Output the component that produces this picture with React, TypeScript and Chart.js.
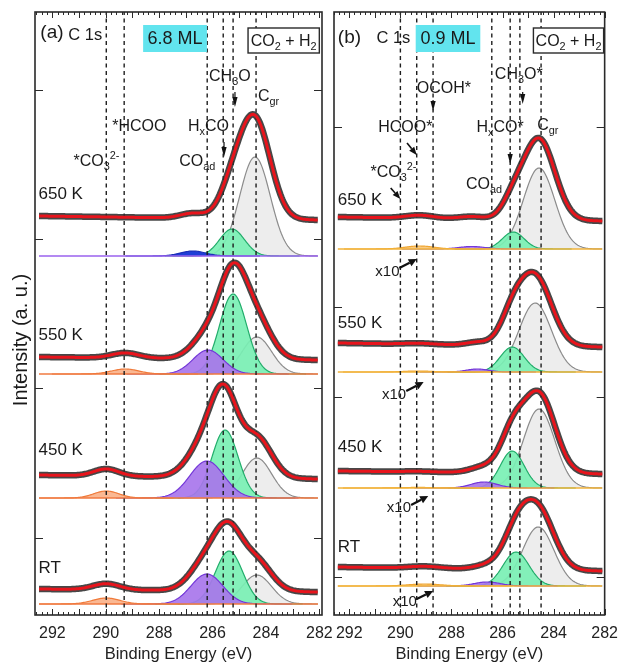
import React, { useEffect, useRef } from "react";
import { Chart, registerables } from "chart.js";

Chart.register(...registerables);

const FONT = '"Liberation Sans", Arial, Helvetica, sans-serif';

// ---------------- shared ----------------
const X_TICKS = [292, 290, 288, 286, 284, 282];
const TEMPERATURES = ["650 K", "550 K", "450 K", "RT"];

// ---------------- panel (a) : 6.8 ML ----------------
// components: [centre (eV), height (a.u.), FWHM (eV)]
const A_BASELINE = [3.59, 2.41, 1.17, 0.11];
const A_BG_HIGH_BE = [0.4, 0.17, 0.23, 0.15];
const A_BG_LOW_BE = [0.36, 0.14, 0.19, 0.12];
const A_CGR = [[284.41, 0.99, 1.35], [284.34, 0.37, 1.3], [284.34, 0.4, 1.3], [284.34, 0.29, 1.3]];
const A_HXCO = [[285.27, 0.27, 1.1], [285.23, 0.8, 1.2], [285.53, 0.68, 1.15], [285.38, 0.53, 1.2]];
const A_COAD = [null, [286.17, 0.24, 1.33], [286.21, 0.37, 1.5], [286.21, 0.3, 1.4]];
const A_CO3 = [null, [289.27, 0.05, 1.2], [289.98, 0.07, 1.1], [289.98, 0.06, 1.2]];
const A_EXTRA = [[286.73, 0.05, 1.1], null, null, null];
const A_REF_LINES = [289.98, 289.31, 286.2, 285.6, 285.23, 284.37];
const A_Y_TICKS = [5.25, 3.76, 2.27, 0.77];

// ---------------- panel (b) : 0.9 ML ----------------
const B_BASELINE = [3.66, 2.43, 1.27, 0.29];
const B_BG_HIGH_BE = [0.32, 0.29, 0.17, 0.19];
const B_BG_LOW_BE = [0.28, 0.25, 0.14, 0.15];
const B_CGR = [[284.57, 0.81, 1.45], [284.72, 0.69, 1.5], [284.57, 0.79, 1.45], [284.6, 0.59, 1.45]];
const B_HXCO = [[285.58, 0.17, 1.0], [285.62, 0.25, 1.1], [285.62, 0.37, 1.1], [285.47, 0.34, 1.2]];
const B_COAD = [[287.2, 0.025, 1.2], [286.98, 0.03, 1.0], [286.72, 0.06, 1.2], [286.6, 0.04, 1.2]];
const B_CO3 = [[289.25, 0.03, 1.3], [289.3, 0.01, 1.3], [289.3, 0.006, 1.3], [289.06, 0.02, 1.5]];
const B_REF_LINES = [290.0, 289.36, 288.72, 286.42, 285.7, 285.32, 284.49];
const B_Y_TICKS = [4.88, 3.08, 2.18, 0.38];

const SAMPLE_STEP = 0.04;
const Y_MIN = 0;
const Y_MAX = 6.03;

type Comp = number[] | null;
type Part = [string, number];

const gauss = (x: number, c: number[]) =>
  c[1] * Math.exp((-4 * Math.LN2 * (x - c[0]) * (x - c[0])) / (c[2] * c[2]));

function energyGrid(hi: number, lo: number) {
  const g: number[] = [];
  const n = Math.round((hi - lo) / SAMPLE_STEP);
  for (let i = 0; i <= n; i++) g.push(+(hi - i * SAMPLE_STEP).toFixed(3));
  return g;
}

interface CompKind { list: Comp[]; fill: string; stroke: string; order: number }
interface TextItem { x: number; y: number; parts: Part[]; size: number }
interface BoxItem { x1: number; x2: number; y1: number; y2: number; parts: Part[]; size: number; fill: string; stroke: boolean }
interface ArrowItem { x1: number; y1: number; x2: number; y2: number; lw: number; head: number; hw: number }
interface PanelDef {
  xMin: number; xMax: number; dataHi: number; dataLo: number;
  padLeft: number; padRight: number;
  base: number[]; bgHigh: number[]; bgLow: number[];
  kinds: CompKind[]; baselineColors: string[];
  refLines: number[]; yTicks: number[];
  texts: TextItem[]; boxes: BoxItem[]; arrows: ArrowItem[];
  yTitle: boolean;
}

const GRAY = { fill: "rgba(236,236,236,0.95)", stroke: "#8c8c8c" };
const GREEN = { fill: "rgba(122,240,180,0.92)", stroke: "#22ad6b" };
const PURPLE = { fill: "rgba(168,118,236,0.92)", stroke: "#7438d8" };
const ORANGE_A = { fill: "rgba(250,178,138,0.92)", stroke: "#f07a3a" };
const ORANGE_B = { fill: "rgba(249,198,120,0.92)", stroke: "#f0a632" };
const BLUE = { fill: "#1f3fd6", stroke: "#1a2fb8" };

const T = (x: number, y: number, parts: Part[], size = 16): TextItem => ({ x, y, parts, size });
const V = (x: number, y1: number, y2: number): ArrowItem => ({ x1: x, y1, x2: x, y2, lw: 1.2, head: 10, hw: 2.6 });
const S = (x1: number, y1: number, x2: number, y2: number): ArrowItem => ({ x1, y1, x2, y2, lw: 1.6, head: 8, hw: 3.2 });
const X10 = (x1: number, y1: number, x2: number, y2: number): ArrowItem => ({ x1, y1, x2, y2, lw: 2.2, head: 8, hw: 4 });

const PANEL_A: PanelDef = {
  xMin: 281.9, xMax: 292.65, dataHi: 292.5, dataLo: 282.05,
  padLeft: 35, padRight: 305,
  base: A_BASELINE, bgHigh: A_BG_HIGH_BE, bgLow: A_BG_LOW_BE,
  kinds: [
    { list: A_CGR, ...GRAY, order: 12 },
    { list: A_HXCO, ...GREEN, order: 11 },
    { list: A_COAD, ...PURPLE, order: 10 },
    { list: A_CO3, ...ORANGE_A, order: 9 },
    { list: A_EXTRA, ...BLUE, order: 9 },
  ],
  baselineColors: ["#9a62ee", "#f07a40", "#f07a40", "#f07a40"],
  refLines: A_REF_LINES, yTicks: A_Y_TICKS,
  texts: [
    T(292.45, 5.82, [["(a)", 0]], 19),
    T(291.4, 5.8, [["C 1s", 0]], 16.5),
    T(286.13, 5.38, [["CH", 0], ["3", -1], ["O", 0]]),
    T(284.3, 5.18, [["C", 0], ["gr", -1]]),
    T(289.76, 4.88, [["*HCOO", 0]]),
    T(286.92, 4.88, [["H", 0], ["x", -1], ["CO", 0]]),
    T(291.21, 4.53, [["*CO", 0], ["3", -1], ["2-", 1]]),
    T(287.25, 4.53, [["CO", 0], ["ad", -1]]),
    T(292.52, 4.21, [[TEMPERATURES[0], 0]], 17),
    T(292.52, 2.8, [[TEMPERATURES[1], 0]], 17),
    T(292.52, 1.65, [[TEMPERATURES[2], 0]], 17),
    T(292.52, 0.47, [[TEMPERATURES[3], 0]], 17),
  ],
  boxes: [
    { x1: 288.6, x2: 286.21, y1: 5.9, y2: 5.63, parts: [["6.8 ML", 0]], size: 18, fill: "#62e4ee", stroke: false },
    { x1: 284.67, x2: 282.0, y1: 5.87, y2: 5.62, parts: [["CO", 0], ["2", -1], [" + H", 0], ["2", -1]], size: 16, fill: "#ffffff", stroke: true },
  ],
  arrows: [V(285.16, 5.23, 5.08), V(285.57, 4.73, 4.58)],
  yTitle: true,
};

const PANEL_B: PanelDef = {
  xMin: 282.0, xMax: 292.6, dataHi: 292.45, dataLo: 282.1,
  padLeft: 334, padRight: 13,
  base: B_BASELINE, bgHigh: B_BG_HIGH_BE, bgLow: B_BG_LOW_BE,
  kinds: [
    { list: B_CGR, ...GRAY, order: 12 },
    { list: B_HXCO, ...GREEN, order: 11 },
    { list: B_COAD, ...PURPLE, order: 10 },
    { list: B_CO3, ...ORANGE_B, order: 9 },
  ],
  baselineColors: ["#f2b33a", "#f2b33a", "#f2b33a", "#f2b33a"],
  refLines: B_REF_LINES, yTicks: B_Y_TICKS,
  texts: [
    T(292.45, 5.77, [["(b)", 0]], 19),
    T(290.94, 5.77, [["C 1s", 0]], 16.5),
    T(286.3, 5.4, [["CH", 0], ["3", -1], ["O*", 0]]),
    T(289.36, 5.26, [["OCOH*", 0]]),
    T(290.87, 4.87, [["HCOO*", 0]]),
    T(287.02, 4.87, [["H", 0], ["x", -1], ["CO*", 0]]),
    T(284.64, 4.89, [["C", 0], ["gr", -1]]),
    T(291.17, 4.42, [["*CO", 0], ["3", -1], ["2-", 1]]),
    T(287.43, 4.3, [["CO", 0], ["ad", -1]]),
    T(292.45, 4.15, [[TEMPERATURES[0], 0]], 17),
    T(292.45, 2.92, [[TEMPERATURES[1], 0]], 17),
    T(292.45, 1.68, [[TEMPERATURES[2], 0]], 17),
    T(292.45, 0.68, [[TEMPERATURES[3], 0]], 17),
    T(290.98, 3.43, [["x10", 0]], 15),
    T(290.72, 2.2, [["x10", 0]], 15),
    T(290.53, 1.07, [["x10", 0]], 15),
    T(290.3, 0.13, [["x10", 0]], 15),
  ],
  boxes: [
    { x1: 289.4, x2: 286.87, y1: 5.9, y2: 5.63, parts: [["0.9 ML", 0]], size: 18, fill: "#62e4ee", stroke: false },
    { x1: 284.79, x2: 282.04, y1: 5.87, y2: 5.62, parts: [["CO", 0], ["2", -1], [" + H", 0], ["2", -1]], size: 16, fill: "#ffffff", stroke: true },
  ],
  arrows: [
    V(285.21, 5.23, 5.11),
    V(288.72, 5.15, 5.04),
    V(285.7, 4.63, 4.51),
    S(289.74, 4.72, 289.36, 4.6),
    S(290.38, 4.27, 290.0, 4.16),
    X10(290.04, 3.47, 289.36, 3.56),
    X10(289.77, 2.24, 289.09, 2.33),
    X10(289.58, 1.1, 288.91, 1.19),
    X10(289.36, 0.16, 288.72, 0.24),
  ],
  yTitle: false,
};

function buildDatasets(def: PanelDef) {
  const ds: any[] = [];
  const grid = energyGrid(def.dataHi, def.dataLo);
  const span = def.dataHi - def.dataLo;
  def.base.forEach((b, i) => {
    const comps: number[][] = [];
    def.kinds.forEach((k) => {
      const c = k.list[i];
      if (!c) return;
      comps.push(c);
      const pts = grid
        .filter((x) => Math.abs(x - c[0]) < 2.3 * c[2])
        .map((x) => ({ x, y: b + gauss(x, c) }));
      ds.push({
        data: pts, borderColor: k.stroke, backgroundColor: k.fill, borderWidth: 1.2,
        fill: { value: b }, pointRadius: 0, order: k.order,
      });
    });
    ds.push({
      data: [{ x: def.dataHi, y: b }, { x: def.dataLo, y: b }],
      borderColor: def.baselineColors[i], borderWidth: 1.6, pointRadius: 0, fill: false, order: 7,
    });
    const fit = grid.map((x) => {
      const bg = def.bgLow[i] + ((def.bgHigh[i] - def.bgLow[i]) * (x - def.dataLo)) / span;
      let s = b + bg;
      comps.forEach((c) => (s += gauss(x, c)));
      return { x, y: s };
    });
    ds.push({ data: fit, borderColor: "rgba(45,45,45,0.88)", borderWidth: 6.5, pointRadius: 0, fill: false, order: 2 });
    ds.push({ data: fit, borderColor: "#e8141c", borderWidth: 3, pointRadius: 0, fill: false, order: 1 });
  });
  def.refLines.forEach((e) => {
    ds.push({
      data: [{ x: e, y: Y_MIN }, { x: e, y: Y_MAX }],
      borderColor: "#1e1e1e", borderWidth: 1.4, borderDash: [4, 3.5], pointRadius: 0, fill: false, order: 5,
    });
  });
  return ds;
}

function drawRich(ctx: CanvasRenderingContext2D, x: number, y: number, parts: Part[], size: number, measureOnly = false) {
  let cx = x;
  for (const [t, mode] of parts) {
    const s = mode === 0 ? size : size * 0.68;
    ctx.font = `${s}px ${FONT}`;
    const dy = mode === -1 ? size * 0.32 : mode === 1 ? -size * 0.4 : 0;
    if (!measureOnly) ctx.fillText(t, cx, y + dy);
    cx += ctx.measureText(t).width;
  }
  return cx - x;
}

function drawArrow(ctx: CanvasRenderingContext2D, a: ArrowItem, xs: any, ys: any) {
  const x1 = xs.getPixelForValue(a.x1), y1 = ys.getPixelForValue(a.y1);
  const x2 = xs.getPixelForValue(a.x2), y2 = ys.getPixelForValue(a.y2);
  const ang = Math.atan2(y2 - y1, x2 - x1);
  const bx = x2 - a.head * Math.cos(ang), by = y2 - a.head * Math.sin(ang);
  ctx.lineWidth = a.lw;
  ctx.beginPath();
  ctx.moveTo(x1, y1);
  ctx.lineTo(bx, by);
  ctx.stroke();
  ctx.beginPath();
  ctx.moveTo(x2, y2);
  ctx.lineTo(bx + a.hw * Math.sin(ang), by - a.hw * Math.cos(ang));
  ctx.lineTo(bx - a.hw * Math.sin(ang), by + a.hw * Math.cos(ang));
  ctx.closePath();
  ctx.fill();
}

function decorPlugin(def: PanelDef) {
  return {
    id: "decor",
    afterDraw(chart: any) {
      const ctx: CanvasRenderingContext2D = chart.ctx;
      const area = chart.chartArea;
      const xs = chart.scales.x, ys = chart.scales.y;
      ctx.save();
      ctx.strokeStyle = "#2a2a2a";
      ctx.fillStyle = "#1a1a1a";
      // inward x ticks (top & bottom)
      ctx.lineWidth = 1;
      for (let k = Math.ceil(def.xMin * 5); k <= Math.floor(def.xMax * 5); k++) {
        const px = Math.round(xs.getPixelForValue(k / 5)) + 0.5;
        const len = k % 5 === 0 ? 6 : 3;
        ctx.beginPath();
        ctx.moveTo(px, area.bottom);
        ctx.lineTo(px, area.bottom - len);
        ctx.moveTo(px, area.top);
        ctx.lineTo(px, area.top + len);
        ctx.stroke();
      }
      // inward y ticks (left & right)
      ctx.lineWidth = 1.2;
      def.yTicks.forEach((v) => {
        const py = Math.round(ys.getPixelForValue(v)) + 0.5;
        ctx.beginPath();
        ctx.moveTo(area.left, py);
        ctx.lineTo(area.left + 8, py);
        ctx.moveTo(area.right, py);
        ctx.lineTo(area.right - 8, py);
        ctx.stroke();
      });
      // frame
      ctx.lineWidth = 1.6;
      ctx.strokeRect(area.left, area.top, area.right - area.left, area.bottom - area.top);

      // boxes
      ctx.textBaseline = "middle";
      ctx.textAlign = "left";
      def.boxes.forEach((b) => {
        const x1 = xs.getPixelForValue(b.x1), x2 = xs.getPixelForValue(b.x2);
        const y1 = ys.getPixelForValue(b.y1), y2 = ys.getPixelForValue(b.y2);
        ctx.fillStyle = b.fill;
        ctx.fillRect(x1, y1, x2 - x1, y2 - y1);
        if (b.stroke) {
          ctx.lineWidth = 1.4;
          ctx.strokeRect(x1, y1, x2 - x1, y2 - y1);
        }
        ctx.fillStyle = "#1a1a1a";
        const w = drawRich(ctx, 0, 0, b.parts, b.size, true);
        drawRich(ctx, (x1 + x2) / 2 - w / 2, (y1 + y2) / 2 + 1, b.parts, b.size);
      });
      // labels
      ctx.fillStyle = "#1a1a1a";
      def.texts.forEach((t) => {
        drawRich(ctx, xs.getPixelForValue(t.x), ys.getPixelForValue(t.y), t.parts, t.size);
      });
      // arrows
      ctx.fillStyle = "#111";
      ctx.strokeStyle = "#111";
      def.arrows.forEach((a) => drawArrow(ctx, a, xs, ys));
      // y title
      if (def.yTitle) {
        ctx.save();
        ctx.translate(21, 340);
        ctx.rotate(-Math.PI / 2);
        ctx.textAlign = "center";
        ctx.textBaseline = "middle";
        ctx.font = `20px ${FONT}`;
        ctx.fillStyle = "#1a1a1a";
        ctx.fillText("Intensity (a. u.)", 0, 0);
        ctx.restore();
      }
      ctx.restore();
    },
  };
}

function makeChart(canvas: HTMLCanvasElement, def: PanelDef) {
  return new Chart(canvas, {
    type: "line",
    data: { datasets: buildDatasets(def) },
    options: {
      animation: false,
      responsive: false,
      events: [],
      parsing: false as any,
      layout: { padding: { left: def.padLeft, right: def.padRight, top: 12, bottom: 0 } },
      elements: { line: { tension: 0 } },
      plugins: { legend: { display: false }, tooltip: { enabled: false } },
      scales: {
        x: {
          type: "linear",
          reverse: true,
          min: def.xMin,
          max: def.xMax,
          grid: { display: false, drawTicks: false },
          border: { display: false },
          afterBuildTicks: (s: any) => {
            s.ticks = X_TICKS.map((v) => ({ value: v }));
          },
          afterFit: (s: any) => {
            s.height = 51;
          },
          ticks: {
            padding: 9,
            color: "#222",
            font: { family: FONT, size: 16 },
            maxRotation: 0,
            autoSkip: false,
            callback: (v: any) => String(v),
          },
          title: {
            display: true,
            text: "Binding Energy (eV)",
            color: "#222",
            font: { family: FONT, size: 16.5 },
            padding: { top: 0, bottom: 2 },
          },
        },
        y: { type: "linear", display: false, min: Y_MIN, max: Y_MAX },
      },
    } as any,
    plugins: [decorPlugin(def)],
  });
}

export default function App() {
  const refA = useRef<HTMLCanvasElement>(null);
  const refB = useRef<HTMLCanvasElement>(null);
  useEffect(() => {
    const a = makeChart(refA.current!, PANEL_A);
    const b = makeChart(refB.current!, PANEL_B);
    return () => {
      a.destroy();
      b.destroy();
    };
  }, []);
  const cs: React.CSSProperties = { position: "absolute", left: 0, top: 0, width: 627, height: 666 };
  return (
    <div style={{ position: "fixed", left: 0, top: 0, width: 627, height: 666, background: "#fff" }}>
      <canvas ref={refA} width={627} height={666} style={cs} />
      <canvas ref={refB} width={627} height={666} style={cs} />
    </div>
  );
}
